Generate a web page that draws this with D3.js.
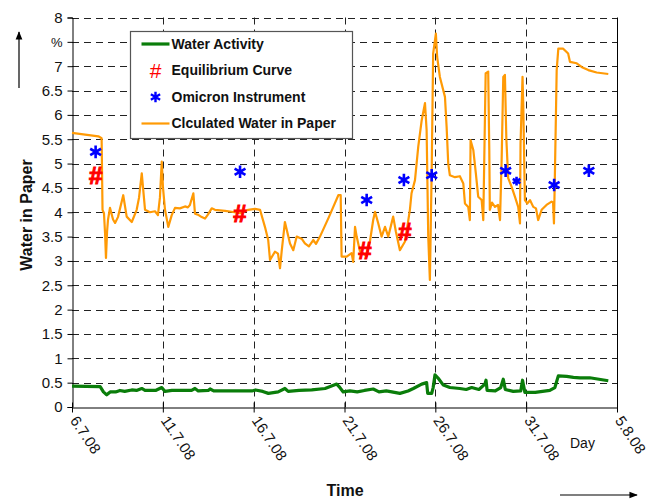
<!DOCTYPE html>
<html>
<head>
<meta charset="utf-8">
<script src="https://cdn.jsdelivr.net/npm/d3@7"></script>
<style>
  body { margin: 0; background: #fff; }
  svg { display: block; font-family: Arial, "Liberation Sans", sans-serif; }
</style>
</head>
<body>
<svg id="chart" width="648" height="499"></svg>
<script>
// days since 6.7.08
const dayTicks = [0, 5, 10, 15, 20, 25, 30];
const dayLabels = ["6.7.08", "11.7.08", "16.7.08", "21.7.08", "26.7.08", "31.7.08", "5.8.08"];
const yTicks = d3.range(0, 8.01, 0.5);

const waterActivity = [
  [0.0, 0.43], [1.55, 0.42], [1.73, 0.31], [1.91, 0.25], [2.1, 0.31], [2.4, 0.31], [2.64, 0.34],
  [2.9, 0.32], [3.29, 0.35], [3.55, 0.34], [3.84, 0.38], [4.02, 0.34], [4.6, 0.34], [4.94, 0.40],
  [5.12, 0.32], [5.5, 0.34], [6.58, 0.34], [6.77, 0.38], [6.95, 0.33], [7.5, 0.34], [7.6, 0.37],
  [7.8, 0.33], [9.9, 0.33], [10.1, 0.35], [10.5, 0.32], [10.81, 0.28], [11.35, 0.31], [11.72, 0.38],
  [11.9, 0.32], [12.5, 0.34], [13.2, 0.35], [13.93, 0.38], [14.57, 0.47], [14.7, 0.42], [14.93, 0.31],
  [15.3, 0.33], [15.7, 0.31], [16.1, 0.34], [16.58, 0.37], [16.9, 0.31], [17.3, 0.33], [18.05, 0.28],
  [18.5, 0.33], [18.79, 0.38], [19.25, 0.47], [19.52, 0.50], [19.58, 0.28], [19.8, 0.28], [19.88, 0.40],
  [19.98, 0.66], [20.16, 0.59], [20.44, 0.45], [20.8, 0.40], [21.35, 0.38], [21.7, 0.36], [22.0, 0.40],
  [22.4, 0.36], [22.73, 0.47], [22.79, 0.55], [22.85, 0.34], [23.3, 0.33], [23.6, 0.40], [23.74, 0.57],
  [23.85, 0.36], [24.29, 0.32], [24.7, 0.33], [24.8, 0.55], [24.93, 0.30], [25.5, 0.30], [25.9, 0.32],
  [26.3, 0.34], [26.58, 0.40], [26.77, 0.64], [27.23, 0.63], [27.6, 0.61], [27.96, 0.60], [28.5, 0.60],
  [29.52, 0.54]
];

const waterInPaper = [
  [0.0, 5.63], [1.45, 5.56], [1.63, 5.52], [1.68, 4.05], [1.76, 3.98], [1.82, 3.57], [1.87, 3.06],
  [1.93, 3.6], [1.98, 3.84], [2.09, 4.09], [2.26, 3.85], [2.37, 3.78], [2.53, 3.9], [2.82, 4.35],
  [3.01, 3.91], [3.29, 3.80], [3.56, 4.05], [3.69, 4.3], [3.84, 4.80], [4.02, 4.05], [4.29, 4.0],
  [4.57, 4.02], [4.73, 3.94], [4.84, 4.3], [4.94, 5.04], [5.01, 4.5], [5.12, 4.05], [5.30, 3.70],
  [5.49, 3.94], [5.67, 4.09], [5.94, 4.08], [6.22, 4.12], [6.38, 4.1], [6.49, 4.15], [6.68, 4.39],
  [6.77, 3.97], [6.93, 3.95], [7.14, 3.90], [7.32, 3.87], [7.48, 3.95], [7.69, 4.08], [7.87, 4.05],
  [8.42, 4.03], [8.79, 4.01], [9.25, 3.98], [9.70, 4.05], [10.07, 4.07], [10.35, 4.05], [10.62, 3.70],
  [10.80, 3.43], [10.90, 3.02], [11.17, 3.19], [11.34, 3.15], [11.45, 2.85], [11.54, 3.19], [11.72, 3.80],
  [12.0, 3.36], [12.18, 3.22], [12.37, 3.50], [12.66, 3.45], [12.82, 3.36], [13.04, 3.30], [13.28, 3.43],
  [13.43, 3.35], [13.65, 3.50], [14.14, 3.9], [14.66, 4.35], [14.79, 4.35], [14.84, 3.09], [15.12, 3.09],
  [15.39, 3.16], [15.48, 2.98], [15.58, 3.70], [15.67, 3.50], [15.85, 3.2], [16.22, 3.1], [16.40, 3.4],
  [16.58, 3.84], [16.68, 4.01], [16.86, 3.77], [17.04, 3.50], [17.23, 3.70], [17.41, 3.50], [17.68, 3.91],
  [17.83, 3.6], [18.05, 3.22], [18.33, 3.4], [18.60, 4.05], [18.69, 4.39], [18.88, 4.66], [19.06, 5.35],
  [19.25, 5.89], [19.43, 6.24], [19.52, 5.69], [19.61, 3.50], [19.70, 2.61], [19.80, 4.87], [19.88, 7.26],
  [20.03, 7.67], [20.10, 7.19], [20.25, 6.78], [20.53, 6.37], [20.62, 5.76], [20.71, 5.0], [20.80, 4.76],
  [21.08, 4.72], [21.35, 4.74], [21.54, 4.59], [21.63, 4.18], [21.81, 4.11], [21.90, 3.84], [21.94, 5.48],
  [22.09, 5.28], [22.23, 4.8], [22.36, 4.32], [22.55, 4.25], [22.64, 3.84], [22.77, 6.85], [22.91, 6.89],
  [22.97, 5.28], [23.0, 4.05], [23.12, 4.2], [23.28, 4.11], [23.45, 4.15], [23.56, 3.84], [23.65, 5.07],
  [23.74, 6.78], [23.83, 6.82], [23.91, 5.5], [24.01, 4.70], [24.20, 4.52], [24.38, 4.32], [24.56, 4.11],
  [24.66, 3.77], [24.69, 5.41], [24.80, 6.78], [24.84, 6.2], [24.93, 4.25], [25.06, 4.18], [25.21, 4.25],
  [25.39, 4.11], [25.54, 4.08], [25.66, 3.84], [25.85, 4.05], [26.12, 4.15], [26.40, 4.22], [26.48, 4.2],
  [26.53, 3.77], [26.58, 4.73], [26.68, 6.92], [26.77, 7.36], [27.04, 7.36], [27.31, 7.26], [27.41, 7.09],
  [27.78, 7.06], [28.07, 6.98], [28.42, 6.92], [28.88, 6.87], [29.52, 6.84]
];

const equilibrium = [[1.30, 4.76], [9.25, 3.98], [16.13, 3.22], [18.33, 3.60]];

// the 7th reading is drawn smaller in the original
const omicron = [
  [1.30, 5.24, 1], [9.25, 4.83, 1], [16.22, 4.25, 1], [18.27, 4.66, 1], [19.80, 4.76, 1],
  [23.87, 4.85, 1], [24.47, 4.64, 0.7], [26.54, 4.56, 1], [28.45, 4.85, 1]
];

const svg = d3.select("#chart");
const plotLeft = 72, plotRight = 617, plotTop = 17.5, plotBottom = 407;

const x = d3.scaleLinear().domain([0, 30]).range([plotLeft, plotRight]);
const y = d3.scaleLinear().domain([0, 8]).range([plotBottom, plotTop]);

// grid
svg.append("g")
  .selectAll("line")
  .data(yTicks.filter(d => d > 0))
  .join("line")
  .attr("x1", plotLeft).attr("x2", plotRight)
  .attr("y1", d => Math.round(y(d)) + 0.5).attr("y2", d => Math.round(y(d)) + 0.5)
  .attr("stroke", "#222").attr("stroke-dasharray", "7,5");

svg.append("g")
  .selectAll("line")
  .data(dayTicks.slice(1, -1))
  .join("line")
  .attr("x1", d => Math.round(x(d)) + 0.5).attr("x2", d => Math.round(x(d)) + 0.5)
  .attr("y1", plotTop).attr("y2", plotBottom)
  .attr("stroke", "#222").attr("stroke-dasharray", "7,5");

// frame on the right
svg.append("line")
  .attr("x1", plotRight + 0.5).attr("x2", plotRight + 0.5)
  .attr("y1", plotTop).attr("y2", plotBottom)
  .attr("stroke", "#000");

// y axis
const yAxis = d3.axisLeft(y)
  .tickValues(yTicks)
  .tickSize(5)
  .tickPadding(5)
  .tickFormat(d => d === 7.5 ? "%" : d3.format("")(d));
svg.append("g")
  .attr("transform", `translate(${plotLeft + 0.5},0)`)
  .call(yAxis)
  .call(g => g.select(".domain").attr("stroke", "#000"))
  .call(g => g.selectAll("text").attr("font-size", 15).attr("fill", "#111"))
  .call(g => g.selectAll(".tick").filter(d => d === 7.5).select("text").attr("font-size", 13));

// x axis, ticks cross the line
const xAxis = d3.axisBottom(x)
  .tickValues(dayTicks)
  .tickSizeInner(5)
  .tickSizeOuter(0)
  .tickFormat((d, i) => dayLabels[i]);
const gx = svg.append("g")
  .attr("transform", `translate(0,${plotBottom + 0.5})`)
  .call(xAxis);
gx.select(".domain").attr("stroke", "#000");
gx.selectAll(".tick line").attr("y1", -5).attr("y2", 5).attr("stroke", "#000");
gx.selectAll(".tick text")
  .attr("font-size", 15).attr("fill", "#111")
  .attr("text-anchor", "start")
  .attr("dy", null).attr("y", 0)
  .attr("transform", "translate(-3,13) rotate(56)");

// series
const line = d3.line().x(d => x(d[0])).y(d => y(d[1]));

svg.append("path")
  .datum(waterActivity)
  .attr("d", line)
  .attr("fill", "none")
  .attr("stroke", "#0a7d0a")
  .attr("stroke-width", 3.2)
  .attr("stroke-linejoin", "round");

svg.append("path")
  .datum(waterInPaper)
  .attr("d", line)
  .attr("fill", "none")
  .attr("stroke", "#ff9a05")
  .attr("stroke-width", 2.2)
  .attr("stroke-linejoin", "round");

svg.append("g")
  .selectAll("text")
  .data(equilibrium)
  .join("text")
  .attr("x", d => x(d[0])).attr("y", d => y(d[1]))
  .attr("dy", "0.35em")
  .attr("text-anchor", "middle")
  .attr("font-size", 24)
  .attr("font-weight", "bold")
  .attr("fill", "#ff0000")
  .attr("stroke", "#ff0000")
  .attr("stroke-width", 1.1)
  .text("#");

svg.append("g")
  .selectAll("path")
  .data(omicron)
  .join("path")
  .attr("transform", d => `translate(${x(d[0])},${y(d[1])})`)
  .attr("d", d => d3.symbol(d3.symbolAsterisk, 110 * d[2] * d[2])())
  .attr("stroke", "#0000ff")
  .attr("stroke-width", 2.6)
  .attr("fill", "none");

// legend
const lg = svg.append("g").attr("transform", "translate(130.5,31.5)");
lg.append("rect")
  .attr("width", 222).attr("height", 107)
  .attr("fill", "#fff").attr("stroke", "#555").attr("stroke-width", 1.2);

const legendItems = [
  { label: "Water Activity", kind: "line", color: "#0a7d0a", w: 3.2 },
  { label: "Equilibrium Curve", kind: "hash" },
  { label: "Omicron Instrument", kind: "star" },
  { label: "Clculated Water in Paper", kind: "line", color: "#ff9a05", w: 2.2 }
];
legendItems.forEach((it, i) => {
  const cy = 12.5 + i * 26.5;
  const g = lg.append("g").attr("transform", `translate(0,${cy})`);
  if (it.kind === "line") {
    g.append("line").attr("x1", 11).attr("x2", 39).attr("y1", 0).attr("y2", 0)
      .attr("stroke", it.color).attr("stroke-width", it.w);
  } else if (it.kind === "hash") {
    g.append("text").attr("x", 25).attr("dy", "0.35em").attr("text-anchor", "middle")
      .attr("font-size", 21).attr("fill", "#ff0000").text("#");
  } else {
    g.append("path").attr("transform", "translate(25,0)")
      .attr("d", d3.symbol(d3.symbolAsterisk, 80)())
      .attr("stroke", "#0000ff").attr("stroke-width", 2.4).attr("fill", "none");
  }
  g.append("text").attr("x", 41).attr("dy", "0.35em")
    .attr("font-size", 14).attr("font-weight", "bold").attr("fill", "#111")
    .text(it.label);
});

// titles and arrows
svg.append("defs").append("marker")
  .attr("id", "arr").attr("viewBox", "0 0 10 10")
  .attr("refX", 9).attr("refY", 5)
  .attr("markerWidth", 7).attr("markerHeight", 7)
  .attr("orient", "auto")
  .append("path").attr("d", "M0,1L10,5L0,9Z").attr("fill", "#000");

svg.append("text")
  .attr("transform", "translate(32,215) rotate(-90)")
  .attr("text-anchor", "middle")
  .attr("font-size", 16).attr("font-weight", "bold").attr("fill", "#111")
  .text("Water in Paper");

svg.append("line")
  .attr("x1", 19).attr("x2", 19).attr("y1", 88).attr("y2", 32)
  .attr("stroke", "#000").attr("stroke-width", 1.2).attr("marker-end", "url(#arr)");

svg.append("text")
  .attr("x", 345).attr("y", 496)
  .attr("text-anchor", "middle")
  .attr("font-size", 16).attr("font-weight", "bold").attr("fill", "#111")
  .text("Time");

svg.append("line")
  .attr("x1", 560).attr("x2", 637).attr("y1", 495).attr("y2", 495)
  .attr("stroke", "#000").attr("stroke-width", 1.2).attr("marker-end", "url(#arr)");

svg.append("text")
  .attr("x", 570).attr("y", 448)
  .attr("font-size", 14).attr("fill", "#111")
  .text("Day");
</script>
</body>
</html>
